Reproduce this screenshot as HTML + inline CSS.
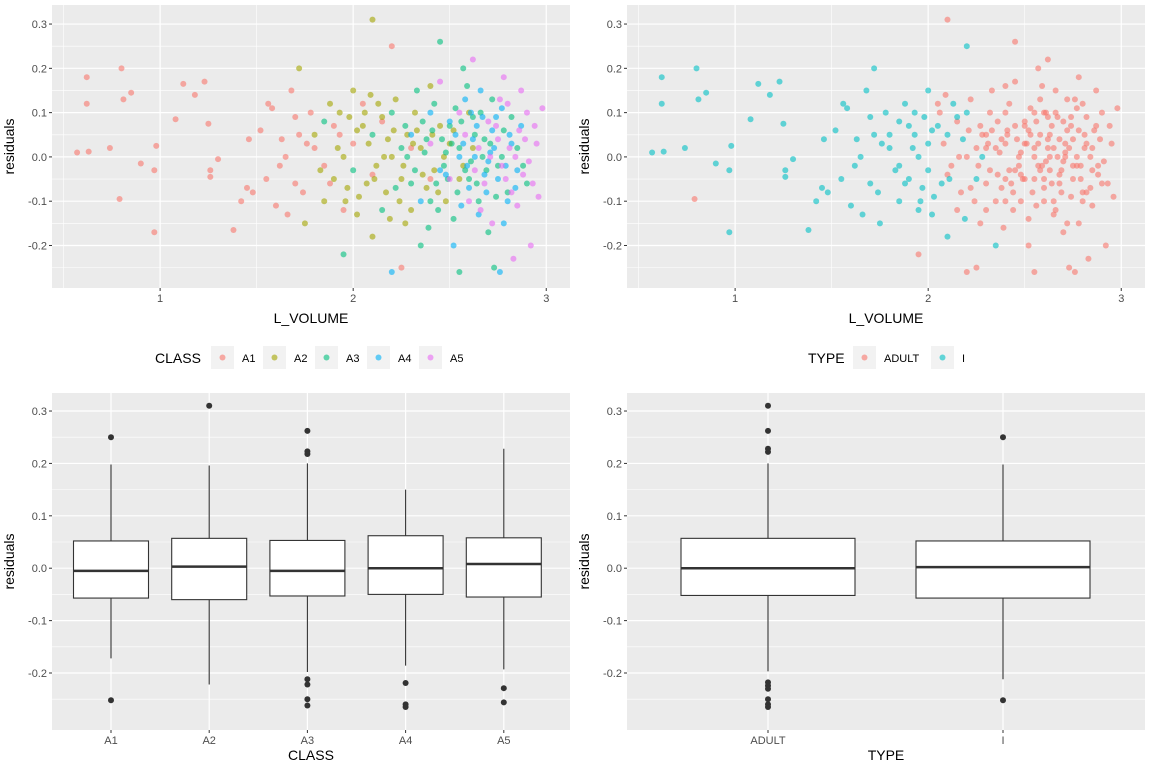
<!DOCTYPE html>
<html><head><meta charset="utf-8"><style>
body{margin:0;background:#fff;width:1152px;height:768px;overflow:hidden;font-family:"Liberation Sans",sans-serif}
svg{display:block}
</style></head><body>
<svg id="s" width="1152" height="768" xmlns="http://www.w3.org/2000/svg"></svg>
<script>
// ---- data ----
const a1 = [[0.57,0.01,1],[0.62,0.18,1],[0.62,0.12,1],[0.63,0.012,1],[0.74,0.02,1],[0.79,-0.095,0],[0.8,0.2,1],[0.81,0.13,1],[0.85,0.145,1],[0.9,-0.015,1],[0.97,-0.17,1],[0.98,0.025,1],[0.97,-0.03,1],[1.08,0.085,1],[1.12,0.165,1],[1.18,0.14,1],[1.23,0.17,1],[1.25,0.075,1],[1.26,-0.03,1],[1.26,-0.045,1],[1.3,-0.005,1],[1.38,-0.165,1],[1.42,-0.1,1],[1.46,0.04,1],[1.48,-0.08,1],[1.52,0.06,1],[1.55,-0.05,1],[1.56,0.12,1],[1.6,-0.11,1],[1.63,0.04,1],[1.65,0.0,1],[1.66,-0.13,1],[1.7,0.09,1],[1.7,-0.06,1],[1.72,0.05,1],[1.74,-0.08,1],[1.78,0.1,1],[1.8,0.02,1],[1.85,-0.02,1],[1.9,0.07,1],[1.95,-0.12,1],[2.0,0.03,1],[2.05,0.12,0],[2.1,-0.04,0],[2.2,0.25,1],[2.25,-0.25,0],[1.68,0.15,1],[1.58,0.11,1],[1.45,-0.07,1],[1.62,-0.02,1],[1.76,0.03,1],[1.88,-0.06,1],[1.93,0.05,1],[2.15,0.08,0],[2.3,0.02,0],[2.4,-0.05,0]];
const a2 = [[1.72,0.2,1],[1.75,-0.15,1],[1.8,0.05,1],[1.85,-0.1,1],[1.88,0.12,1],[1.9,-0.05,1],[1.93,0.1,1],[1.95,0.0,1],[1.97,-0.07,1],[2.0,0.15,1],[2.02,-0.13,1],[2.05,0.07,1],[2.08,0.03,0],[2.1,0.31,0],[2.1,-0.18,1],[2.12,-0.02,0],[2.15,0.09,1],[2.17,-0.08,0],[2.2,0.0,0],[2.22,0.13,0],[2.25,-0.05,1],[2.28,0.05,0],[2.3,-0.12,0],[2.32,0.1,0],[2.35,0.02,0],[2.38,-0.07,0],[2.4,0.16,0],[2.42,-0.03,0],[2.45,0.07,0],[2.48,-0.1,0],[2.5,0.03,0],[2.55,-0.05,0],[2.6,0.1,0],[2.02,0.06,1],[2.07,-0.06,1],[2.18,0.04,1],[2.27,-0.15,0],[2.33,0.06,0],[1.98,0.09,1],[2.13,0.12,1],[1.83,-0.03,1],[2.24,-0.1,0],[1.92,0.02,1],[2.03,-0.09,1],[2.06,0.1,0],[2.11,-0.05,1],[2.16,0.0,0],[2.21,0.06,0],[2.26,-0.02,0],[2.31,0.03,0],[2.36,-0.04,0],[2.41,0.05,0],[2.44,-0.08,0],[2.47,0.0,0],[2.52,0.06,0],[2.57,-0.02,0],[2.62,0.02,0],[2.19,-0.14,1],[2.09,0.14,0],[1.96,-0.1,1]];
const a3 = [[1.85,0.08,1],[1.95,-0.22,0],[2.0,-0.03,1],[2.1,0.05,1],[2.15,-0.12,0],[2.2,0.1,1],[2.25,0.02,0],[2.3,-0.06,0],[2.33,0.15,0],[2.35,-0.2,1],[2.38,0.04,0],[2.4,-0.1,0],[2.42,0.12,0],[2.45,0.26,0],[2.47,-0.02,0],[2.5,0.07,0],[2.52,-0.14,0],[2.55,0.02,0],[2.57,0.2,0],[2.6,-0.05,0],[2.62,0.09,0],[2.65,-0.1,0],[2.68,0.04,0],[2.7,-0.17,0],[2.72,0.13,0],[2.75,-0.02,0],[2.78,0.06,0],[2.8,-0.08,0],[2.85,0.02,0],[2.9,-0.06,0],[2.48,0.01,0],[2.58,-0.03,0],[2.63,0.05,0],[2.43,-0.06,0],[2.36,0.08,0],[2.53,0.11,0],[2.67,0.0,0],[2.55,-0.26,0],[2.73,-0.25,0],[2.28,0.0,1],[2.46,0.04,0],[2.59,0.16,0],[2.32,-0.03,0],[2.37,0.01,0],[2.41,0.06,0],[2.44,-0.12,0],[2.49,-0.05,0],[2.51,0.03,0],[2.54,-0.08,0],[2.56,0.08,0],[2.61,-0.01,0],[2.64,-0.06,0],[2.66,0.1,0],[2.69,-0.03,0],[2.71,0.03,0],[2.74,-0.09,0],[2.77,0.0,0],[2.82,0.09,0],[2.88,-0.02,0],[2.22,-0.07,0],[2.27,0.07,0],[2.39,-0.16,0]];
const a4 = [[2.2,-0.26,0],[2.3,0.05,0],[2.35,-0.1,0],[2.4,0.1,0],[2.45,-0.03,0],[2.5,0.08,0],[2.52,-0.2,0],[2.55,0.0,0],[2.58,0.13,0],[2.6,-0.07,0],[2.62,0.04,0],[2.65,-0.13,0],[2.67,0.09,0],[2.7,-0.01,0],[2.72,0.06,0],[2.75,-0.05,0],[2.77,0.11,0],[2.8,-0.1,0],[2.82,0.03,0],[2.85,-0.03,0],[2.87,0.07,0],[2.76,-0.26,0],[2.63,0.0,0],[2.57,0.03,0],[2.68,-0.04,0],[2.73,0.02,0],[2.48,-0.04,0],[2.66,0.15,0],[2.53,0.05,0],[2.59,-0.02,0],[2.64,0.07,0],[2.69,-0.08,0],[2.71,0.01,0],[2.74,0.09,0],[2.79,-0.02,0],[2.81,0.05,0],[2.84,-0.07,0],[2.56,-0.11,0],[2.61,0.1,0],[2.78,-0.15,0]];
const a5 = [[2.4,0.03,0],[2.45,0.17,0],[2.5,-0.05,0],[2.55,0.1,0],[2.6,-0.1,0],[2.62,0.22,0],[2.65,0.02,0],[2.68,-0.06,0],[2.7,0.08,0],[2.72,-0.15,0],[2.75,0.04,0],[2.77,-0.02,0],[2.8,0.12,0],[2.82,-0.08,0],[2.84,0.0,0],[2.86,0.06,0],[2.88,-0.04,0],[2.9,0.1,0],[2.92,-0.2,0],[2.95,0.03,0],[2.98,0.11,0],[2.83,-0.23,0],[2.78,0.18,0],[2.66,-0.12,0],[2.93,-0.06,0],[2.87,0.15,0],[2.58,0.05,0],[2.63,-0.03,0],[2.71,0.0,0],[2.74,0.07,0],[2.79,-0.05,0],[2.81,0.02,0],[2.85,-0.11,0],[2.89,0.04,0],[2.91,-0.01,0],[2.94,0.07,0],[2.96,-0.09,0],[2.76,0.13,0]];
const classNames = ["A1","A2","A3","A4","A5"];
const typeNames = ["ADULT","I"];
const xTicks = [1,2,3];
const yTicks = [-0.2,-0.1,0.0,0.1,0.2,0.3];
const yTickLabels = ["-0.2","-0.1","0.0","0.1","0.2","0.3"];
// box stats: [low, q1, median, q3, high]
const classBoxes = [[-0.172,-0.057,-0.005,0.052,0.198],[-0.222,-0.06,0.003,0.057,0.196],[-0.198,-0.053,-0.005,0.053,0.2],[-0.186,-0.05,0.0,0.062,0.15],[-0.193,-0.055,0.008,0.058,0.228]];
const classOutliers = [[0.25,-0.252],[0.31],[0.262,0.223,0.218,-0.212,-0.222,-0.25,-0.262],[-0.219,-0.26,-0.265],[-0.229,-0.256]];
const typeBoxes = [[-0.197,-0.052,0.0,0.057,0.2],[-0.212,-0.057,0.002,0.052,0.198]];
const typeOutliers = [[0.31,0.262,0.228,0.222,-0.218,-0.224,-0.23,-0.25,-0.26,-0.265],[0.25,-0.252]];
const classColors = ["#F8766D","#A3A500","#00BF7D","#00B0F6","#E76BF3"];
const typeColors = ["#F8766D","#00BFC4"];

const S = document.getElementById('s'), NS = "http://www.w3.org/2000/svg";
function mk(tag, at, parent){const e=document.createElementNS(NS,tag);for(const k in at)e.setAttribute(k,at[k]);(parent||S).appendChild(e);return e;}
function txt(x,y,s,size,anchor,fill,rot){const e=mk('text',{x:x,y:y,'font-size':size,'text-anchor':anchor,fill:fill});if(rot)e.setAttribute('transform','rotate(-90 '+x+' '+y+')');e.textContent=s;return e;}

function panel(name,x0,y0,w,h,ymin,ymax){
  const g=mk('g',{});
  
  
  const bg=mk('rect',{x:x0,y:y0,width:w,height:h,fill:'#EBEBEB'},g);
  
  
  const ys=v=>y0+h-(v-ymin)/(ymax-ymin)*h;
  for(let i=0;i<yTicks.length;i++){
    const v=yTicks[i];
    mk('line',{x1:x0,x2:x0+w,y1:ys(v+0.05),y2:ys(v+0.05),stroke:'#fff','stroke-width':0.6},g);
    mk('line',{x1:x0,x2:x0+w,y1:ys(v),y2:ys(v),stroke:'#fff','stroke-width':1.2},g);
    mk('line',{x1:x0-3,x2:x0,y1:ys(v),y2:ys(v),stroke:'#333','stroke-width':1},g);
    const t=txt(x0-5,ys(v)+4,yTickLabels[i],11,'end','#4D4D4D');
    
    
  }
  mk('line',{x1:x0,x2:x0+w,y1:ys(-0.25),y2:ys(-0.25),stroke:'#fff','stroke-width':0.6},g);
  const yt=txt(x0-38,y0+h/2,'residuals',14,'middle','#000',true);
  
  
  return {g,ys};
}

function scatter(name,x0,colorIdx,colors,xtitle){
  const w=518,h=283,y0=5,xmin=0.44,xmax=3.123,ymin=-0.296,ymax=0.343;
  const p=panel(name,x0,y0,w,h,ymin,ymax);
  const xs=v=>x0+(v-xmin)/(xmax-xmin)*w;
  [0.5,1.5,2.5].forEach(v=>mk('line',{x1:xs(v),x2:xs(v),y1:y0,y2:y0+h,stroke:'#fff','stroke-width':0.6},p.g));
  xTicks.forEach(v=>{
    mk('line',{x1:xs(v),x2:xs(v),y1:y0,y2:y0+h,stroke:'#fff','stroke-width':1.2},p.g);
    mk('line',{x1:xs(v),x2:xs(v),y1:y0+h,y2:y0+h+3,stroke:'#333'},p.g);
    const t=txt(xs(v),y0+h+14,String(v),11,'middle','#4D4D4D');
    
    
  });
  const groups=[a1,a2,a3,a4,a5];
  groups.forEach((arr,ci)=>arr.forEach(pt=>{
    const c=mk('circle',{cx:xs(pt[0]),cy:p.ys(pt[1]),r:3,fill:colors[colorIdx(ci,pt)],'fill-opacity':0.6},p.g);
    
    
  }));
  const xt=txt(x0+w/2,y0+h+35,xtitle,14,'middle','#000');
  
  
}

function boxes(name,x0,cats,stats,outs,xtitle,spacing,bw,first){
  const w=518,h=337,y0=393,ymin=-0.3088,ymax=0.3344;
  const p=panel(name,x0,y0,w,h,ymin,ymax);
  cats.forEach((c,i)=>{
    const cx=first+i*spacing, s=stats[i], ys=p.ys;
    mk('line',{x1:cx,x2:cx,y1:y0,y2:y0+h,stroke:'#fff','stroke-width':1.2},p.g);
    mk('line',{x1:cx,x2:cx,y1:y0+h,y2:y0+h+3,stroke:'#333'},p.g);
    const g=mk('g',{},p.g);
    
    
    mk('line',{x1:cx,x2:cx,y1:ys(s[0]),y2:ys(s[4]),stroke:'#333','stroke-width':1.1},g);
    mk('rect',{x:cx-bw/2,y:ys(s[3]),width:bw,height:ys(s[1])-ys(s[3]),fill:'#fff',stroke:'#333','stroke-width':1.1},g);
    mk('line',{x1:cx-bw/2,x2:cx+bw/2,y1:ys(s[2]),y2:ys(s[2]),stroke:'#333','stroke-width':2.5},g);
    outs[i].forEach(v=>{
      const o=mk('circle',{cx:cx,cy:ys(v),r:3,fill:'#333'},g);
      
      
    });
    const t=txt(cx,y0+h+14,c,11,'middle','#4D4D4D');
    
    
  });
  const xt=txt(x0+w/2,y0+h+30,xtitle,14,'middle','#000');
  
  
}

function legend(name,title,tx,kx,labels,colors,step){
  const g=mk('g',{});
  
  
  txt(tx,363,title,14,'start','#000');
  let x=kx;
  labels.forEach((l,i)=>{
    const r=mk('rect',{x:x,y:346,width:23,height:23,fill:'#F2F2F2'},g);
    
    
    mk('circle',{cx:x+11.5,cy:357.5,r:3,fill:colors[i],'fill-opacity':0.6},g);
    const t=txt(x+31,362,l,11,'start','#000');
    
    
    x+=step[i];
  });
}

scatter('scatter-by-class',52,(ci,pt)=>ci,classColors,'L_VOLUME');
scatter('scatter-by-type',627,(ci,pt)=>pt[2],typeColors,'L_VOLUME');
legend('class-legend','CLASS',155,211,classNames,classColors,[52,52,52,52,52]);
legend('type-legend','TYPE',808,853,typeNames,typeColors,[78,0]);
boxes('boxplot-by-class',52,classNames,classBoxes,classOutliers,'CLASS',98.2,75,111);
boxes('boxplot-by-type',627,typeNames,typeBoxes,typeOutliers,'TYPE',235,174,768);
</script>
</body></html>
